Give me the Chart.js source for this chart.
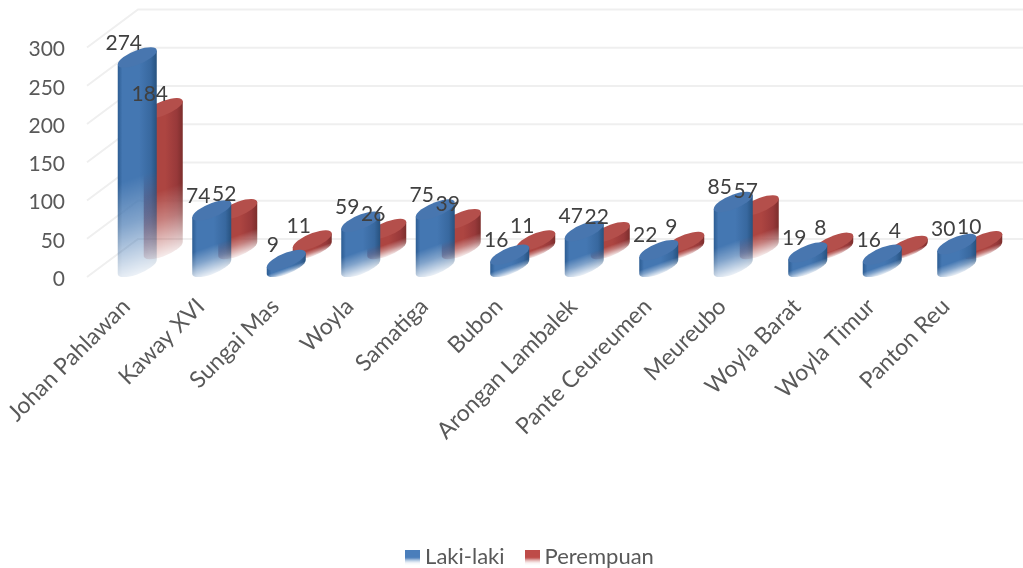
<!DOCTYPE html>
<html><head><meta charset="utf-8">
<style>html,body{margin:0;padding:0;background:#fff}canvas{display:block}</style>
<script src="https://cdn.jsdelivr.net/npm/chart.js@4/dist/chart.umd.min.js"></script>
</head><body><canvas id="c" width="1023" height="568"></canvas>
<script>
const categories = ["Johan Pahlawan","Kaway XVI","Sungai Mas","Woyla","Samatiga","Bubon","Arongan Lambalek","Pante Ceureumen","Meureubo","Woyla Barat","Woyla Timur","Panton Reu"];
const lakiLaki = [274,74,9,59,75,16,47,22,85,19,16,30];
const perempuan = [184,52,11,26,39,11,22,9,57,8,4,10];
const yTicks = [0,50,100,150,200,250,300];
const seriesNames = ["Laki-laki","Perempuan"];
const FONT = "Lato";
const PAL = {
  "#4675ae": {edgeL:"#2c5c92", mid:"#4477b2", near:"#38689f", edgeR:"#27527f", top:"#4876af"},
  "#b14f4b": {edgeL:"#a8423f", mid:"#ad4541", near:"#98393a", edgeR:"#7c2e2c", top:"#b44f4b"}
};
const SHEAR = 7, MINOR = 7.5;
const off = document.createElement('canvas'); off.width = 1023; off.height = 568;
const o = off.getContext('2d');
Chart.BarElement.prototype.draw = function(ctx){
  const {x,y,base,width} = this.getProps(['x','y','base','width'], true);
  const p = PAL[this.options.backgroundColor]; if(!p) return;
  const a = width/2, k = -SHEAR/a;
  o.setTransform(1,0,0,1,0,0); o.clearRect(0,0,off.width,off.height);
  o.globalCompositeOperation='source-over';
  o.setTransform(1,k,0,1,x,0);
  const g = o.createLinearGradient(-a,0,a,0);
  g.addColorStop(0,p.edgeL); g.addColorStop(0.12,p.mid); g.addColorStop(0.55,p.mid); g.addColorStop(0.85,p.near); g.addColorStop(1,p.edgeR);
  o.fillStyle = g;
  o.beginPath(); o.moveTo(-a,y); o.lineTo(-a,base); o.ellipse(0,base,a,MINOR,0,Math.PI,0,true); o.lineTo(a,y); o.closePath(); o.fill();
  const h = base+MINOR-y;
  const v = o.createLinearGradient(0,y,0,base+MINOR);
  v.addColorStop(0,"rgba(0,0,0,1)"); v.addColorStop(0.55,"rgba(0,0,0,1)");
  v.addColorStop(0.75,"rgba(0,0,0,0.68)"); v.addColorStop(1,"rgba(0,0,0,0.1)");
  o.globalCompositeOperation='destination-in';
  o.fillStyle = v; o.fillRect(-a-2,y-30,2*a+4,h+60);
  o.globalCompositeOperation='source-over';
  o.setTransform(1,0,0,1,0,0);
  ctx.drawImage(off,0,0);
  ctx.save();
  ctx.translate(x,y); ctx.transform(1,k,0,1,0,0);
  ctx.beginPath(); ctx.ellipse(0,0,a,MINOR,0,0,Math.PI*2);
  ctx.fillStyle = p.top; ctx.fill();
  ctx.restore();
};
function swatch(top){
  const s = document.createElement('canvas'); s.width=15; s.height=15;
  const c = s.getContext('2d');
  const g = c.createLinearGradient(0,0,0,15);
  g.addColorStop(0,top); g.addColorStop(0.55,top); g.addColorStop(1,"rgba(255,255,255,0.2)");
  c.fillStyle=g; c.fillRect(0,0,15,15);
  return s;
}
const gridPlugin = { id:'grid3d', beforeDatasetsDraw(chart){
  const c = chart.ctx, f = chart.scales.y, b = chart.scales.yBack;
  c.save(); c.strokeStyle="#efefef"; c.lineWidth=2;
  yTicks.forEach(v=>{
    c.beginPath(); c.moveTo(87,f.getPixelForValue(v)); c.lineTo(138,b.getPixelForValue(v)); c.lineTo(chart.width,b.getPixelForValue(v)); c.stroke();
  });
  c.restore();
}};
const labelPlugin = { id:'vals', afterDatasetsDraw(chart){
  const c = chart.ctx; c.save();
  c.font = "21px "+FONT; c.fillStyle="#404040"; c.textAlign="center"; c.textBaseline="middle";
  chart.data.datasets.forEach((d,i)=>{
    chart.getDatasetMeta(i).data.forEach((el,j)=>{ c.fillText(String(d.data[j]), el.x-13.5, el.y-14.5); });
  });
  c.restore();
}};
const legendShift = { id:'legendShift', afterLayout(chart){
  const l = chart.legend; l.left += 19; l.right += 19; l.top += 10; l.bottom += 10;
}};
const PX = 0.765, SPAN = 268/PX;
new Chart(document.getElementById('c'),{
  type:'bar',
  data:{labels:categories,datasets:[
    {label:seriesNames[0],data:lakiLaki,backgroundColor:"#4675ae",yAxisID:'yBlue'},
    {label:seriesNames[1],data:perempuan,backgroundColor:"#b14f4b",yAxisID:'yRed'}
  ]},
  plugins:[gridPlugin,labelPlugin,legendShift],
  options:{
    responsive:false,animation:false,devicePixelRatio:1,
    categoryPercentage:0.698,barPercentage:1.5,
    layout:{padding:{left:20,right:16,top:9,bottom:0}},
    plugins:{tooltip:{enabled:false},
      legend:{position:'bottom',labels:{usePointStyle:true,pointStyleWidth:3,boxHeight:15,padding:26,color:"#595959",font:{family:FONT,size:22},
        generateLabels:()=>[
          {text:seriesNames[0],pointStyle:swatch("#4a7ebb"),fontColor:"#595959",datasetIndex:0,hidden:false,lineWidth:0},
          {text:seriesNames[1],pointStyle:swatch("#be4b48"),fontColor:"#595959",datasetIndex:1,hidden:false,lineWidth:0}
        ]}}},
    scales:{
      x:{grid:{display:false},border:{display:false},
        ticks:{autoSkip:false,minRotation:45,maxRotation:45,labelOffset:-24,padding:8,color:"#595959",font:{family:FONT,size:23}},
        afterFit(s){s.height=233;}},
      y:{position:'left',min:0,max:SPAN,grid:{display:false,drawTicks:false},border:{display:false},
        ticks:{padding:48,labelOffset:2,color:"#595959",font:{family:FONT,size:21}},
        afterBuildTicks(s){s.ticks=yTicks.map(v=>({value:v}));},
        afterFit(s){s.width=93;s.paddingTop=0;s.paddingBottom=0;}},
      yBack:{display:false,min:-38/PX,max:SPAN-38/PX},
      yBlue:{display:false,min:-10/PX,max:SPAN-10/PX},
      yRed:{display:false,min:-28/PX,max:SPAN-28/PX}
    }
  }
});
</script></body></html>
